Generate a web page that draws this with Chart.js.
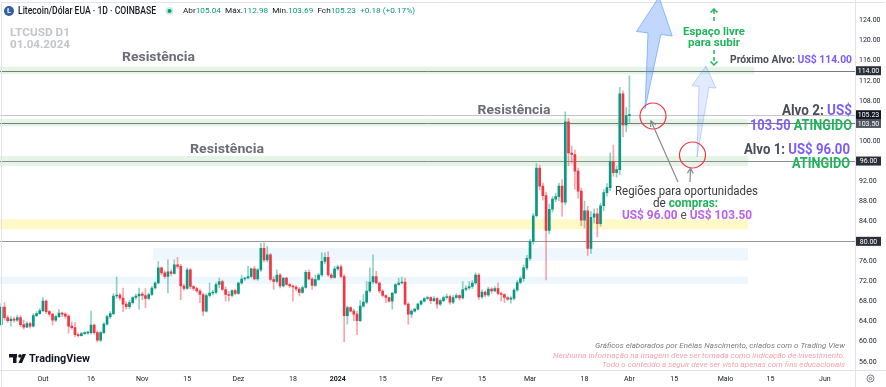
<!DOCTYPE html>
<html>
<head>
<meta charset="utf-8">
<script src="https://cdn.jsdelivr.net/npm/chart.js@4.4.1/dist/chart.umd.min.js"></script>
<style>
  html, body { margin: 0; padding: 0; background: #fff; }
  canvas { display: block; }
</style>
</head>
<body>
<canvas id="chart" width="886" height="387"></canvas>
<script>
// LTCUSD daily candles, one per day from 2023-09-18 (index 0) to 2024-04-01 (index 196)
const opens = [
  63.4,66.9,64.8,64.2,64.5,64.3,64.8,63.4,62.9,63.6,
  63.1,65.2,65.6,66.2,68.1,66.0,65.5,64.3,65.0,65.7,
  65.5,65.1,63.1,62.8,61.4,61.2,61.6,61.7,61.8,63.3,
  61.8,60.3,61.8,63.5,65.0,65.6,69.1,69.3,68.7,67.5,
  67.0,67.8,68.8,69.1,69.5,69.2,68.6,69.4,70.7,71.7,
  74.7,73.7,73.0,73.9,73.6,75.3,75.0,71.1,70.6,74.3,
  71.0,70.6,70.1,69.4,66.1,69.2,69.7,69.8,71.4,72.0,
  70.4,69.4,69.2,70.2,69.6,71.7,72.5,72.7,73.0,74.5,
  72.5,74.3,78.6,76.3,77.3,72.4,72.0,73.3,71.1,72.7,
  71.4,71.1,70.9,70.5,69.8,70.8,73.8,72.5,71.2,72.4,
  73.3,76.0,76.8,73.3,72.8,74.5,74.9,73.0,65.2,66.8,
  66.1,65.5,64.2,67.1,67.9,70.1,71.9,73.0,71.7,70.1,
  69.2,68.8,68.1,69.7,71.4,71.7,71.9,67.5,65.5,66.1,
  66.5,67.5,68.1,68.6,68.8,68.2,68.6,67.5,68.2,68.8,
  69.0,67.9,68.8,69.2,68.7,70.4,70.7,71.0,71.7,73.3,
  68.9,69.9,69.3,70.5,70.1,70.6,69.6,69.4,68.8,68.5,
  68.6,70.3,71.8,72.6,74.7,76.6,80.0,85.1,94.6,91.0,
  89.1,82.2,86.4,88.4,88.9,91.0,87.8,103.8,97.6,97.3,
  94.0,90.0,84.2,86.1,78.6,84.8,85.5,83.5,87.1,89.7,
  90.7,95.9,93.7,94.3,109.4,103.2,105.04
];
const highs = [
  67.6,67.8,65.2,65.0,64.9,65.3,65.2,64.3,64.0,63.9,
  65.6,66.0,66.6,68.8,68.3,66.2,65.6,65.3,66.4,65.9,
  65.8,65.4,63.9,63.8,61.7,61.9,62.0,62.1,66.1,63.5,
  62.1,62.0,63.8,65.3,66.0,69.6,72.9,69.6,70.7,68.0,
  68.3,69.0,69.5,70.7,69.9,70.6,69.7,71.0,72.0,76.0,
  74.9,74.1,76.3,74.3,76.3,76.8,75.4,71.5,74.7,74.6,
  71.2,70.9,70.5,69.7,69.6,71.7,70.3,71.8,72.7,72.3,
  70.9,70.1,70.4,70.5,71.9,73.3,72.9,75.0,74.7,75.0,
  74.6,79.6,79.7,79.0,77.6,73.0,74.3,73.6,72.8,72.9,
  71.6,71.3,71.2,70.8,71.1,74.2,74.3,72.8,73.3,73.6,
  77.7,77.7,77.9,73.6,75.0,75.2,75.3,73.4,67.1,67.0,
  66.5,66.1,68.2,69.4,72.0,74.7,77.3,74.0,71.9,70.4,
  69.4,68.9,69.9,71.6,72.7,72.9,72.7,67.8,66.4,66.7,
  67.7,68.3,68.8,69.1,69.0,69.0,68.8,68.5,69.1,69.5,
  69.3,69.2,69.6,69.4,72.0,71.2,72.0,72.2,73.7,73.6,
  70.4,70.2,70.9,70.8,71.0,71.7,69.9,69.6,69.0,69.0,
  70.6,72.2,73.0,75.3,77.2,80.4,85.6,95.5,95.2,91.6,
  89.8,87.4,88.9,89.6,91.6,92.3,105.8,104.5,99.0,98.2,
  94.6,90.6,88.0,87.0,86.0,86.5,86.6,87.6,90.3,91.5,
  97.6,99.2,95.0,110.7,110.0,106.7,112.98
];
const lows = [
  63.1,64.3,63.8,63.1,63.9,64.0,63.0,62.5,62.8,62.7,
  62.9,65.0,65.5,66.0,65.6,65.1,63.3,64.0,64.8,65.0,
  64.7,61.7,62.5,61.0,60.9,61.1,61.4,61.5,61.5,61.5,
  59.9,60.0,61.6,63.3,64.6,65.4,68.6,68.3,66.0,66.5,
  66.6,67.5,68.5,66.5,68.4,66.8,68.4,69.2,70.4,71.5,
  73.3,72.6,69.7,73.1,73.4,74.6,68.4,70.2,70.4,70.5,
  70.2,69.8,67.8,65.2,65.9,68.9,69.3,69.5,70.7,70.2,
  68.1,68.1,68.9,69.3,69.4,71.4,72.2,72.5,72.7,72.3,
  72.2,74.0,75.9,75.9,72.1,70.4,71.7,70.7,70.9,71.2,
  70.8,68.1,70.1,69.1,69.6,70.6,72.3,70.4,71.0,72.2,
  73.0,75.5,73.0,72.5,72.6,74.2,72.7,60.0,63.5,65.9,
  64.2,61.4,64.0,66.9,67.6,69.8,71.5,71.5,69.7,68.9,
  67.8,67.9,66.5,69.5,71.2,71.5,67.3,63.5,64.8,65.9,
  66.3,67.3,67.9,68.4,67.6,68.0,66.7,67.2,68.0,68.5,
  67.5,67.6,68.6,68.3,68.5,70.1,70.4,70.6,71.4,68.4,
  68.6,68.9,69.0,69.6,69.9,69.3,68.1,67.8,68.2,67.7,
  68.3,70.0,71.5,72.0,74.3,76.2,79.4,84.8,90.2,88.2,
  72.3,81.5,85.8,87.9,88.1,85.0,87.3,95.1,95.6,90.4,
  88.6,83.1,82.6,77.2,77.6,83.6,80.9,83.0,86.1,89.0,
  90.1,93.0,92.8,93.3,100.8,101.8,103.69
];
const closes = [
  66.9,64.8,64.2,64.5,64.3,64.8,63.4,62.9,63.6,63.1,
  65.2,65.6,66.2,68.1,66.0,65.5,64.3,65.0,65.7,65.5,
  65.1,63.1,62.8,61.4,61.2,61.6,61.7,61.8,63.3,61.8,
  60.3,61.8,63.5,65.0,65.6,69.1,69.3,68.7,67.5,67.0,
  67.8,68.8,69.1,69.5,69.2,68.6,69.4,70.7,71.7,74.7,
  73.7,73.0,73.9,73.6,75.3,75.0,71.1,70.6,74.3,71.0,
  70.6,70.1,69.4,66.1,69.2,69.7,69.8,71.4,72.0,70.4,
  69.4,69.2,70.2,69.6,71.7,72.5,72.7,73.0,74.5,72.5,
  74.3,78.6,76.3,77.3,72.4,72.0,73.3,71.1,72.7,71.4,
  71.1,70.9,70.5,69.8,70.8,73.8,72.5,71.2,72.4,73.3,
  76.0,76.8,73.3,72.8,74.5,74.9,73.0,65.2,66.8,66.1,
  65.5,64.2,67.1,67.9,70.1,71.9,73.0,71.7,70.1,69.2,
  68.8,68.1,69.7,71.4,71.7,71.9,67.5,65.5,66.1,66.5,
  67.5,68.1,68.6,68.8,68.2,68.6,67.5,68.2,68.8,69.0,
  67.9,68.8,69.2,68.7,70.4,70.7,71.0,71.7,73.3,68.9,
  69.9,69.3,70.5,70.1,70.6,69.6,69.4,68.8,68.5,68.6,
  70.3,71.8,72.6,74.7,76.6,80.0,85.1,94.6,91.0,89.1,
  82.2,86.4,88.4,88.9,91.0,87.8,103.8,97.6,97.3,94.0,
  90.0,84.2,86.1,78.6,84.8,85.5,83.5,87.1,89.7,90.7,
  95.9,93.7,94.3,109.4,103.2,105.04,105.23
];

// time axis: day index since 2023-09-18 and its label
const timeTicks  = [13, 28, 44, 58, 74, 91, 105, 119, 136, 150, 165, 182, 196, 210, 226, 240, 257];
const timeLabels = ['Out', '16', 'Nov', '15', 'Dez', '18', '2024', '15', 'Fev', '15', 'Mar', '18', 'Abr', '15', 'Maio', '15', 'Jun'];
const priceTicks = [56, 60, 64, 68, 72, 76, 84, 88, 92, 100, 108, 112, 116, 120, 124];
const markedPrices = [114, 105.23, 103.5, 96, 80];

const UP = '#089981', DOWN = '#f23645';
const UP_WICK = 'rgba(8,153,129,0.45)', DOWN_WICK = 'rgba(242,54,69,0.45)';
const GREEN_TXT = '#1fb45a', PURPLE = '#7b5cfa', PINKPURPLE = '#bb62ea', DARK = '#4a4d57';
const isUp = i => closes[i] >= opens[i];

// zones and levels drawn behind candles (x in day index, y in price)
const zones = [
  { lo: 113.3, hi: 114.8, from: -1, to: 235, color: 'rgba(76,175,80,0.14)' },
  { lo: 102.9, hi: 104.4, from: -1, to: 233, color: 'rgba(76,175,80,0.14)' },
  { lo: 95.0, hi: 97.0, from: -1, to: 233, color: 'rgba(76,175,80,0.14)' },
  { lo: 82.4, hi: 84.4, from: -1, to: 233, color: 'rgba(255,235,59,0.28)' },
  { lo: 76.2, hi: 78.7, from: 47.3, to: 233, color: 'rgba(33,150,243,0.08)' },
  { lo: 71.5, hi: 73.0, from: -1, to: 233, color: 'rgba(33,150,243,0.08)' }
];
const levels = [
  { p: 114, color: '#787b86' },
  { p: 105.23, color: '#c3c5cc' },
  { p: 103.5, color: '#787b86' },
  { p: 96, color: '#8a8d97' },
  { p: 80, color: '#9598a1' }
];

function rich(ctx, parts, x, y, width, align) {
  let total = 0;
  parts.forEach(p => { ctx.font = p[1]; total += ctx.measureText(p[0]).width; });
  const k = width / total;
  const left = align === 'right' ? x - width : align === 'center' ? x - width / 2 : x;
  ctx.save();
  ctx.translate(left, y);
  ctx.scale(k, 1);
  ctx.textBaseline = 'middle';
  ctx.textAlign = 'left';
  let cx = 0;
  parts.forEach(p => {
    ctx.font = p[1]; ctx.fillStyle = p[2];
    ctx.fillText(p[0], cx, 0);
    cx += ctx.measureText(p[0]).width;
  });
  ctx.restore();
}

function fatArrow(ctx, tx, ty, hx, hy, headLen, shaftW, headW, fill, stroke) {
  const dx = hx - tx, dy = hy - ty, len = Math.hypot(dx, dy);
  const ux = dx / len, uy = dy / len, nx = -uy, ny = ux;
  const bx = hx - ux * headLen, by = hy - uy * headLen;
  ctx.beginPath();
  ctx.moveTo(tx, ty);
  ctx.lineTo(bx + nx * shaftW / 2, by + ny * shaftW / 2);
  ctx.lineTo(bx + nx * headW / 2, by + ny * headW / 2);
  ctx.lineTo(hx, hy);
  ctx.lineTo(bx - nx * headW / 2, by - ny * headW / 2);
  ctx.lineTo(bx - nx * shaftW / 2, by - ny * shaftW / 2);
  ctx.closePath();
  ctx.fillStyle = fill; ctx.fill();
  ctx.strokeStyle = stroke; ctx.lineWidth = 1; ctx.stroke();
}

function lineArrow(ctx, x1, y1, x2, y2, color) {
  const a = Math.atan2(y2 - y1, x2 - x1);
  ctx.strokeStyle = color; ctx.lineWidth = 1.2;
  ctx.beginPath(); ctx.moveTo(x1, y1); ctx.lineTo(x2, y2); ctx.stroke();
  ctx.beginPath();
  ctx.moveTo(x2 - 6 * Math.cos(a - 0.5), y2 - 6 * Math.sin(a - 0.5));
  ctx.lineTo(x2, y2);
  ctx.lineTo(x2 - 6 * Math.cos(a + 0.5), y2 - 6 * Math.sin(a + 0.5));
  ctx.stroke();
}

const zonesPlugin = {
  id: 'zones',
  beforeDatasetsDraw(chart) {
    const { ctx, chartArea: a, scales: { x, y } } = chart;
    ctx.save();
    zones.forEach(z => {
      const x0 = Math.max(a.left, x.getPixelForValue(z.from));
      const x1 = x.getPixelForValue(z.to);
      const y0 = y.getPixelForValue(z.hi), y1 = y.getPixelForValue(z.lo);
      ctx.fillStyle = z.color;
      ctx.fillRect(x0, y0, x1 - x0, y1 - y0);
    });
    levels.forEach(l => {
      const py = Math.round(y.getPixelForValue(l.p)) + 0.5;
      ctx.strokeStyle = l.color; ctx.lineWidth = 1;
      ctx.beginPath(); ctx.moveTo(a.left, py); ctx.lineTo(a.right, py); ctx.stroke();
    });
    ctx.restore();
  }
};

const notesPlugin = {
  id: 'notes',
  afterDraw(chart) {
    const { ctx, chartArea: a, scales: { y } } = chart;
    const F = 'Roboto, "Noto Sans", sans-serif';
    ctx.save();

    // frame
    ctx.strokeStyle = '#e0e3eb'; ctx.lineWidth = 1;
    ctx.beginPath();
    ctx.moveTo(1.5, 387); ctx.lineTo(1.5, 2.5); ctx.lineTo(885, 2.5);
    ctx.moveTo(855.5, 0); ctx.lineTo(855.5, 387);
    ctx.moveTo(0, 370.5); ctx.lineTo(886, 370.5);
    ctx.stroke();

    // header legend
    ctx.fillStyle = '#345d9d';
    ctx.beginPath(); ctx.arc(9, 11, 5, 0, Math.PI * 2); ctx.fill();
    ctx.fillStyle = '#fff'; ctx.font = 'bold 7px ' + F; ctx.textAlign = 'center'; ctx.textBaseline = 'middle';
    ctx.fillText('Ł', 9, 11.3);
    rich(ctx, [['Litecoin/Dólar EUA · 1D · COINBASE', '500 10px ' + F, '#131722']], 18, 11, 138, 'left');
    ctx.fillStyle = 'rgba(8,153,129,0.2)';
    ctx.beginPath(); ctx.arc(169.5, 11, 4, 0, Math.PI * 2); ctx.fill();
    ctx.fillStyle = UP;
    ctx.beginPath(); ctx.arc(169.5, 11, 2, 0, Math.PI * 2); ctx.fill();
    const lf = '8px ' + F;
    rich(ctx, [
      ['Abr', lf, '#131722'], ['105.04  ', lf, UP],
      ['Máx.', lf, '#131722'], ['112.98  ', lf, UP],
      ['Mín.', lf, '#131722'], ['103.69  ', lf, UP],
      ['Fch', lf, '#131722'], ['105.23  ', lf, UP],
      ['+0.18 (+0.17%)', lf, UP]
    ], 183, 11, 232, 'left');

    // watermark
    rich(ctx, [['LTCUSD D1', 'bold 11px ' + F, '#c3c5ca']], 10, 33, 60, 'left');
    rich(ctx, [['01.04.2024', 'bold 11px ' + F, '#c3c5ca']], 10, 45, 60, 'left');

    // resistance labels
    const rf = 'bold 13px ' + F;
    rich(ctx, [['Resistência', rf, '#6a6d76']], 158.5, 58, 73, 'center');
    rich(ctx, [['Resistência', rf, '#6a6d76']], 514, 110.5, 73, 'center');
    rich(ctx, [['Resistência', rf, '#6a6d76']], 227, 150, 74, 'center');

    // blue arrows
    fatArrow(ctx, 697, 157, 706, 66, 21, 10, 24, 'rgba(66,133,244,0.16)', 'rgba(66,133,244,0.3)');
    fatArrow(ctx, 645, 109, 659, -3, 37, 13, 36, 'rgba(66,133,244,0.33)', 'rgba(66,133,244,0.5)');

    // red circles
    ctx.strokeStyle = '#f23645'; ctx.lineWidth = 1.2;
    ctx.beginPath(); ctx.arc(653, 116, 13, 0, Math.PI * 2); ctx.stroke();
    ctx.beginPath(); ctx.arc(692.5, 155, 13, 0, Math.PI * 2); ctx.stroke();

    // pointers from the text to the circles
    lineArrow(ctx, 678, 182, 651, 121, '#8a8a8a');
    lineArrow(ctx, 690, 182, 690.5, 168, '#8a8a8a');

    // free space dashed arrow
    ctx.strokeStyle = GREEN_TXT; ctx.lineWidth = 1.5;
    ctx.setLineDash([4, 3]);
    ctx.beginPath(); ctx.moveTo(714, 10); ctx.lineTo(714, 24); ctx.moveTo(714, 50); ctx.lineTo(714, 64); ctx.stroke();
    ctx.setLineDash([]);
    ctx.beginPath();
    ctx.moveTo(710.5, 12.5); ctx.lineTo(714, 9); ctx.lineTo(717.5, 12.5);
    ctx.moveTo(710.5, 61.5); ctx.lineTo(714, 65); ctx.lineTo(717.5, 61.5);
    ctx.stroke();
    rich(ctx, [['Espaço livre', 'bold 11px ' + F, GREEN_TXT]], 714, 32, 62, 'center');
    rich(ctx, [['para subir', 'bold 11px ' + F, GREEN_TXT]], 714, 43.5, 52, 'center');

    // targets
    const tf = 'bold 10px ' + F;
    rich(ctx, [['Próximo Alvo: ', tf, DARK], ['US$ 114.00', tf, PURPLE]], 852, 60, 122, 'right');
    const bf = 'bold 14px ' + F;
    rich(ctx, [['Alvo 2: ', bf, DARK], ['US$', bf, PURPLE]], 852, 111, 70, 'right');
    rich(ctx, [['103.50 ', bf, PURPLE], ['ATINGIDO', bf, GREEN_TXT]], 852, 126.5, 102, 'right');
    rich(ctx, [['Alvo 1: ', bf, DARK], ['US$ 96.00', bf, PURPLE]], 850, 150, 106, 'right');
    rich(ctx, [['ATINGIDO', bf, GREEN_TXT]], 850, 164, 58, 'right');

    // buying regions text
    rich(ctx, [['Regiões para oportunidades', '12px ' + F, '#3a3a3a']], 686.5, 191.5, 143, 'center');
    rich(ctx, [['de ', '12px ' + F, '#3a3a3a'], ['compras:', 'bold 12px ' + F, GREEN_TXT]], 685.5, 204, 65, 'center');
    rich(ctx, [['US$ 96.00', 'bold 12px ' + F, PINKPURPLE], [' e ', '12px ' + F, '#555'], ['US$ 103.50', 'bold 12px ' + F, PINKPURPLE]], 687, 216, 130, 'center');

    // footer notes
    rich(ctx, [['Gráficos elaborados por Enéias Nascimento, criados com o Trading View', 'italic 8px ' + F, '#7a7a7a']], 845, 345.5, 250, 'right');
    rich(ctx, [['Nenhuma informação na imagem deve ser tomada como indicação de investimento.', 'italic 8px ' + F, '#f5a3ab']], 845, 356, 292, 'right');
    rich(ctx, [['Todo o conteúdo a seguir deve ser visto apenas com fins educacionais', 'italic 8px ' + F, '#f5a3ab']], 845, 364.5, 243, 'right');

    // TradingView logo
    ctx.fillStyle = '#131722';
    ctx.fillRect(9, 354, 8, 3.5);
    ctx.fillRect(13, 354, 3.5, 9);
    ctx.beginPath(); ctx.arc(20, 356, 1.8, 0, Math.PI * 2); ctx.fill();
    ctx.beginPath(); ctx.moveTo(18.5, 363); ctx.lineTo(22.5, 354); ctx.lineTo(26, 354); ctx.lineTo(22, 363); ctx.closePath(); ctx.fill();
    rich(ctx, [['TradingView', 'bold 11.5px ' + F, '#131722']], 29, 359, 61, 'left');

    // marked price labels on the axis
    markedPrices.forEach(p => {
      const py = y.getPixelForValue(p);
      ctx.fillStyle = p === 105.23 ? '#131722' : (p === 103.5 ? '#50535e' : '#2a2e39');
      ctx.fillRect(856, py - 4.5, 25, 9);
      ctx.fillStyle = '#fff'; ctx.font = '7px ' + F; ctx.textAlign = 'center'; ctx.textBaseline = 'middle';
      ctx.fillText(p.toFixed(2), 868.5, py + 0.5);
    });

    // settings icon
    ctx.strokeStyle = '#787b86'; ctx.lineWidth = 1;
    ctx.beginPath(); ctx.arc(870.5, 378.5, 3.5, 0, Math.PI * 2); ctx.stroke();
    ctx.beginPath(); ctx.arc(870.5, 378.5, 1.2, 0, Math.PI * 2); ctx.stroke();

    ctx.restore();
  }
};

Chart.defaults.font.family = 'Roboto, "Noto Sans", sans-serif';

new Chart(document.getElementById('chart'), {
  type: 'bar',
  data: {
    datasets: [
      {
        data: closes.map((c, i) => ({ x: i, y: [opens[i], c] })),
        backgroundColor: ctx => isUp(ctx.dataIndex) ? UP : DOWN,
        barThickness: 2, minBarLength: 1, grouped: false, borderWidth: 0
      },
      {
        data: closes.map((c, i) => ({ x: i, y: [lows[i], highs[i]] })),
        backgroundColor: ctx => isUp(ctx.dataIndex) ? UP_WICK : DOWN_WICK,
        barThickness: 1, grouped: false, borderWidth: 0
      }
    ]
  },
  options: {
    responsive: false,
    animation: false,
    events: [],
    layout: { padding: { top: 3, left: 0, right: 0, bottom: 0 } },
    plugins: { legend: { display: false }, tooltip: { enabled: false } },
    scales: {
      x: {
        type: 'linear', offset: false, min: -0.4, max: 266.4,
        grid: { display: false, drawTicks: false, offset: false },
        border: { display: false },
        afterBuildTicks: s => { s.ticks = timeTicks.map(v => ({ value: v })); },
        afterFit: s => { s.height = 17; },
        ticks: {
          autoSkip: false, maxRotation: 0, minRotation: 0, padding: 5, color: '#131722',
          font: c => ({ size: 7, weight: c.tick && c.tick.value === 105 ? 'bold' : 'normal' }),
          callback: v => { const k = timeTicks.indexOf(v); return k >= 0 ? timeLabels[k] : ''; }
        }
      },
      y: {
        type: 'linear', position: 'right', min: 54.36, max: 126.46,
        grid: { display: false, drawTicks: false },
        border: { display: false },
        afterBuildTicks: s => { s.ticks = priceTicks.map(v => ({ value: v })); },
        afterFit: s => { s.width = 31; },
        ticks: { padding: 4, color: '#131722', font: { size: 7 }, callback: v => v.toFixed(2) }
      }
    }
  },
  plugins: [zonesPlugin, notesPlugin]
});
</script>
</body>
</html>
